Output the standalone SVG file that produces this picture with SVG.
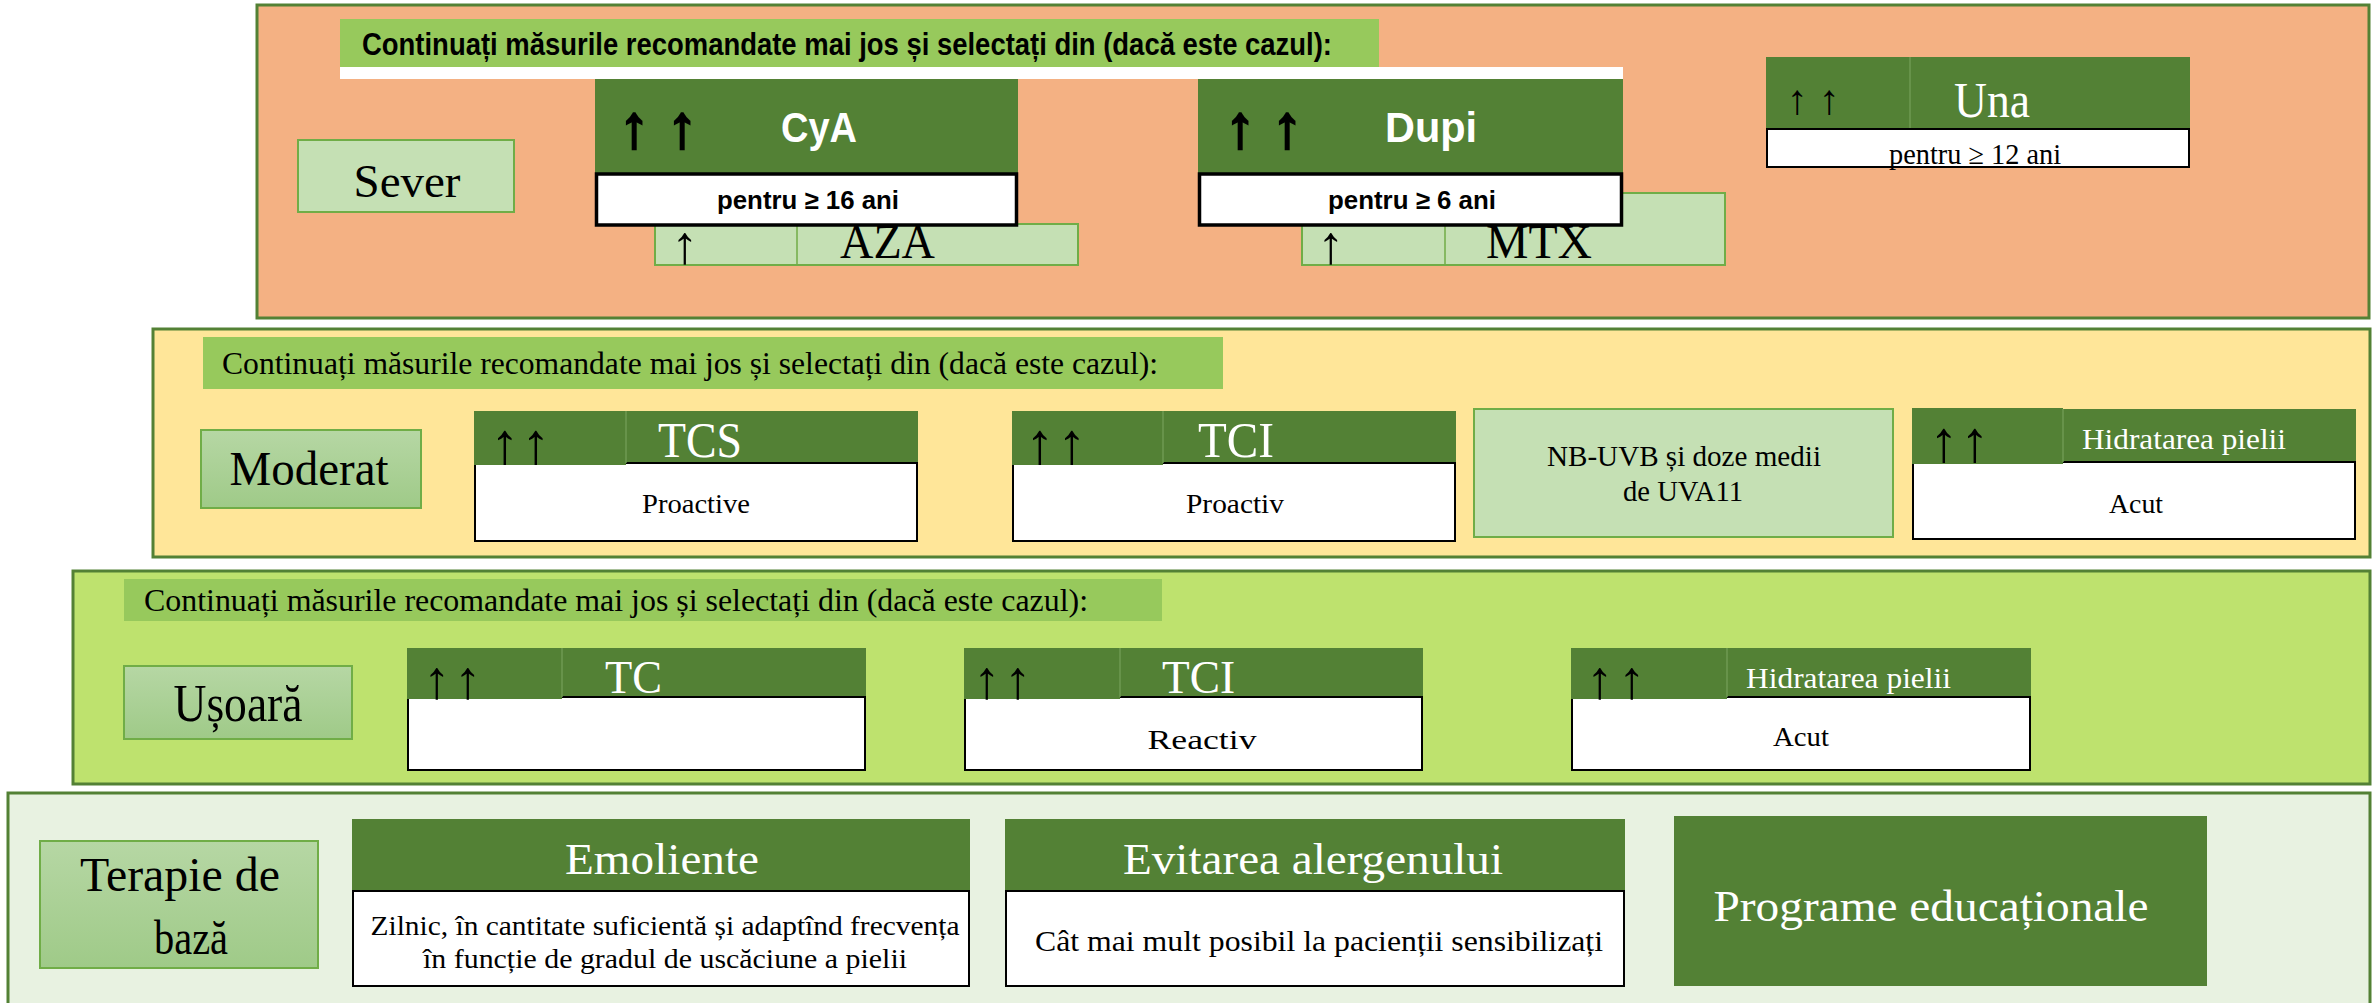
<svg xmlns="http://www.w3.org/2000/svg" width="2376" height="1003" viewBox="0 0 2376 1003">
<defs>
<linearGradient id="lblGrad" x1="0" y1="0" x2="0" y2="1">
<stop offset="0" stop-color="#B6D7A4"/>
<stop offset="1" stop-color="#9FCA88"/>
</linearGradient>
<style>
.panel{stroke:#538135;stroke-width:3}
.band{fill:#97C95C}
.hdr{fill:#538135}
.div{stroke:#6E9A52;stroke-width:1.5}
.wbox{fill:#FFFFFF;stroke:#000000;stroke-width:2}
.wbox3{fill:#FFFFFF;stroke:#000000;stroke-width:3.5}
.lbox{fill:#C5E0B4;stroke:#70AD47;stroke-width:2}
.gbox{fill:url(#lblGrad);stroke:#70AD47;stroke-width:2}
.serif{font-family:"Liberation Serif","Times New Roman",serif;fill:#000000}
.sansb{font-family:"Liberation Sans",Arial,sans-serif;font-weight:bold;fill:#000000}
.arrb{stroke:#000000;stroke-width:2.5}
.w{fill:#FFFFFF}
.mid{text-anchor:middle}
</style>
</defs>
<rect width="2376" height="1003" fill="#FFFFFF"/>

<!-- SEVERE panel -->
<g id="panel-sever">
<rect x="257" y="5" width="2112" height="313" fill="#F4B183" class="panel"/>
<rect x="340" y="19" width="1039" height="48" class="band"/>
<rect x="340" y="67" width="1283" height="12" fill="#FFFFFF"/>
<text class="sansb" x="362" y="55" font-size="32" textLength="970" lengthAdjust="spacingAndGlyphs">Continuați măsurile recomandate mai jos și selectați din (dacă este cazul):</text>
</g>
<g id="node-sever">
<rect x="298" y="140" width="216" height="72" class="lbox"/>
<text class="serif mid" x="407" y="197" font-size="47" textLength="107" lengthAdjust="spacingAndGlyphs">Sever</text>
</g>
<g id="node-aza">
<rect x="655" y="224" width="423" height="41" class="lbox"/>
<line x1="797" y1="224" x2="797" y2="265" stroke="#70AD47" stroke-width="1.5"/>
<text class="serif mid" x="685" y="263" font-size="54">↑</text>
<text class="serif" x="840" y="258" font-size="48" textLength="95" lengthAdjust="spacingAndGlyphs">AZA</text>
</g>
<g id="node-mtx">
<rect x="1302" y="193" width="423" height="72" class="lbox"/>
<line x1="1445" y1="193" x2="1445" y2="265" stroke="#70AD47" stroke-width="1.5"/>
<text class="serif mid" x="1331" y="263" font-size="54">↑</text>
<text class="serif" x="1486" y="258" font-size="48" textLength="106" lengthAdjust="spacingAndGlyphs">MTX</text>
</g>
<g id="node-cya">
<rect x="595" y="79" width="423" height="95" class="hdr"/>
<rect x="596.5" y="174" width="420" height="51" class="wbox3"/>
<text class="sansb mid arrb" x="634" y="147" font-size="60">↑</text>
<text class="sansb mid arrb" x="682" y="147" font-size="60">↑</text>
<text class="sansb w" x="781" y="142" font-size="42" textLength="76" lengthAdjust="spacingAndGlyphs">CyA</text>
<text class="sansb mid" x="808" y="209" font-size="26" textLength="182" lengthAdjust="spacingAndGlyphs">pentru ≥ 16 ani</text>
</g>
<g id="node-dupi">
<rect x="1198" y="79" width="425" height="95" class="hdr"/>
<rect x="1199.5" y="174" width="422" height="51" class="wbox3"/>
<text class="sansb mid arrb" x="1240" y="147" font-size="60">↑</text>
<text class="sansb mid arrb" x="1287" y="147" font-size="60">↑</text>
<text class="sansb w" x="1385" y="142" font-size="42" textLength="92" lengthAdjust="spacingAndGlyphs">Dupi</text>
<text class="sansb mid" x="1412" y="209" font-size="26" textLength="168" lengthAdjust="spacingAndGlyphs">pentru ≥ 6 ani</text>
</g>
<g id="node-una">
<rect x="1766" y="57" width="424" height="72" class="hdr"/>
<line x1="1910" y1="57" x2="1910" y2="129" class="div"/>
<rect x="1767" y="129" width="422" height="38" class="wbox"/>
<text class="serif mid" x="1797" y="114" font-size="42">↑</text>
<text class="serif mid" x="1829" y="114" font-size="42">↑</text>
<text class="serif w" x="1954" y="117" font-size="50" textLength="76" lengthAdjust="spacingAndGlyphs">Una</text>
<text class="serif mid" x="1975" y="164" font-size="29" textLength="172" lengthAdjust="spacingAndGlyphs">pentru ≥ 12 ani</text>
</g>

<!-- MODERATE panel -->
<g id="panel-moderat">
<rect x="153" y="329" width="2217" height="228" fill="#FFE699" class="panel"/>
<rect x="203" y="337" width="1020" height="52" class="band"/>
<text class="serif" x="222" y="374" font-size="32" textLength="936" lengthAdjust="spacingAndGlyphs">Continuați măsurile recomandate mai jos și selectați din (dacă este cazul):</text>
</g>
<g id="node-moderat">
<rect x="201" y="430" width="220" height="78" class="gbox"/>
<text class="serif mid" x="309" y="485" font-size="49" textLength="159" lengthAdjust="spacingAndGlyphs">Moderat</text>
</g>
<g id="node-tcs">
<rect x="475" y="463" width="442" height="78" class="wbox"/>
<rect x="474" y="411" width="152" height="54" class="hdr"/>
<rect x="626" y="411" width="292" height="51" class="hdr"/>
<line x1="626" y1="411" x2="626" y2="463" class="div"/>
<text class="serif mid" x="505" y="463" font-size="58">↑</text>
<text class="serif mid" x="536" y="463" font-size="58">↑</text>
<text class="serif w" x="658" y="457" font-size="50" textLength="84" lengthAdjust="spacingAndGlyphs">TCS</text>
<text class="serif mid" x="696" y="513" font-size="28" textLength="108" lengthAdjust="spacingAndGlyphs">Proactive</text>
</g>
<g id="node-tci-moderat">
<rect x="1013" y="463" width="442" height="78" class="wbox"/>
<rect x="1012" y="411" width="151" height="54" class="hdr"/>
<rect x="1163" y="411" width="293" height="51" class="hdr"/>
<line x1="1163" y1="411" x2="1163" y2="463" class="div"/>
<text class="serif mid" x="1040" y="463" font-size="58">↑</text>
<text class="serif mid" x="1072" y="463" font-size="58">↑</text>
<text class="serif w" x="1198" y="457" font-size="50" textLength="76" lengthAdjust="spacingAndGlyphs">TCI</text>
<text class="serif mid" x="1235" y="513" font-size="28" textLength="98" lengthAdjust="spacingAndGlyphs">Proactiv</text>
</g>
<g id="node-nbuvb">
<rect x="1474" y="409" width="419" height="128" class="lbox"/>
<text class="serif mid" x="1684" y="466" font-size="29" textLength="274" lengthAdjust="spacingAndGlyphs">NB-UVB și doze medii</text>
<text class="serif mid" x="1683" y="501" font-size="29" textLength="120" lengthAdjust="spacingAndGlyphs">de UVA11</text>
</g>
<g id="node-hidratare-moderat">
<rect x="1913" y="462" width="442" height="77" class="wbox"/>
<rect x="1912" y="408" width="151" height="56" class="hdr"/>
<rect x="2063" y="409" width="293" height="52" class="hdr"/>
<line x1="2063" y1="409" x2="2063" y2="462" class="div"/>
<text class="serif mid" x="1944" y="461" font-size="58">↑</text>
<text class="serif mid" x="1975" y="461" font-size="58">↑</text>
<text class="serif w" x="2082" y="449" font-size="30" textLength="204" lengthAdjust="spacingAndGlyphs">Hidratarea pielii</text>
<text class="serif mid" x="2136" y="513" font-size="28" textLength="54" lengthAdjust="spacingAndGlyphs">Acut</text>
</g>

<!-- MILD panel -->
<g id="panel-usoara">
<rect x="73" y="571" width="2297" height="213" fill="#BEE26E" class="panel"/>
<rect x="124" y="579" width="1038" height="42" class="band"/>
<text class="serif" x="144" y="611" font-size="32" textLength="944" lengthAdjust="spacingAndGlyphs">Continuați măsurile recomandate mai jos și selectați din (dacă este cazul):</text>
</g>
<g id="node-usoara">
<rect x="124" y="666" width="228" height="73" class="gbox"/>
<text class="serif mid" x="238" y="721" font-size="52" textLength="129" lengthAdjust="spacingAndGlyphs">Ușoară</text>
</g>
<g id="node-tc">
<rect x="408" y="697" width="457" height="73" class="wbox"/>
<rect x="407" y="648" width="155" height="51" class="hdr"/>
<rect x="562" y="648" width="304" height="48" class="hdr"/>
<line x1="562" y1="648" x2="562" y2="697" class="div"/>
<text class="serif mid" x="437" y="698" font-size="54">↑</text>
<text class="serif mid" x="468" y="698" font-size="54">↑</text>
<text class="serif w" x="605" y="693" font-size="46" textLength="57" lengthAdjust="spacingAndGlyphs">TC</text>
</g>
<g id="node-tci-usoara">
<rect x="965" y="697" width="457" height="73" class="wbox"/>
<rect x="964" y="648" width="156" height="51" class="hdr"/>
<rect x="1120" y="648" width="303" height="48" class="hdr"/>
<line x1="1120" y1="648" x2="1120" y2="697" class="div"/>
<text class="serif mid" x="987" y="698" font-size="54">↑</text>
<text class="serif mid" x="1018" y="698" font-size="54">↑</text>
<text class="serif w" x="1162" y="693" font-size="46" textLength="73" lengthAdjust="spacingAndGlyphs">TCI</text>
<text class="serif mid" x="1202" y="749" font-size="27" textLength="109" lengthAdjust="spacingAndGlyphs">Reactiv</text>
</g>
<g id="node-hidratare-usoara">
<rect x="1572" y="697" width="458" height="73" class="wbox"/>
<rect x="1571" y="648" width="156" height="51" class="hdr"/>
<rect x="1727" y="648" width="304" height="48" class="hdr"/>
<line x1="1727" y1="648" x2="1727" y2="697" class="div"/>
<text class="serif mid" x="1600" y="698" font-size="54">↑</text>
<text class="serif mid" x="1632" y="698" font-size="54">↑</text>
<text class="serif w" x="1746" y="688" font-size="30" textLength="205" lengthAdjust="spacingAndGlyphs">Hidratarea pielii</text>
<text class="serif mid" x="1801" y="746" font-size="27" textLength="56" lengthAdjust="spacingAndGlyphs">Acut</text>
</g>

<!-- BASE THERAPY panel -->
<g id="panel-baza">
<rect x="8" y="793" width="2362" height="230" fill="#E8F2E1" class="panel"/>
</g>
<g id="node-terapie">
<rect x="40" y="841" width="278" height="127" class="gbox"/>
<text class="serif mid" x="180" y="891" font-size="48" textLength="200" lengthAdjust="spacingAndGlyphs">Terapie de</text>
<text class="serif mid" x="191" y="954" font-size="48" textLength="74" lengthAdjust="spacingAndGlyphs">bază</text>
</g>
<g id="node-emoliente">
<rect x="352" y="819" width="618" height="72" class="hdr"/>
<rect x="353" y="891" width="616" height="95" class="wbox"/>
<text class="serif w mid" x="662" y="874" font-size="44" textLength="194" lengthAdjust="spacingAndGlyphs">Emoliente</text>
<text class="serif mid" x="665" y="935" font-size="28" textLength="589" lengthAdjust="spacingAndGlyphs">Zilnic, în cantitate suficientă și adaptînd  frecvența</text>
<text class="serif mid" x="665" y="968" font-size="28" textLength="484" lengthAdjust="spacingAndGlyphs">în funcție de gradul de uscăciune a pielii</text>
</g>
<g id="node-evitarea">
<rect x="1005" y="819" width="620" height="72" class="hdr"/>
<rect x="1006" y="891" width="618" height="95" class="wbox"/>
<text class="serif w mid" x="1313" y="874" font-size="44" textLength="380" lengthAdjust="spacingAndGlyphs">Evitarea alergenului</text>
<text class="serif mid" x="1319" y="951" font-size="29" textLength="568" lengthAdjust="spacingAndGlyphs">Cât mai mult posibil la pacienții sensibilizați</text>
</g>
<g id="node-programe">
<rect x="1674" y="816" width="533" height="170" class="hdr"/>
<text class="serif w mid" x="1931" y="921" font-size="44" textLength="435" lengthAdjust="spacingAndGlyphs">Programe educaționale</text>
</g>
<g id="connectors"/>
</svg>
